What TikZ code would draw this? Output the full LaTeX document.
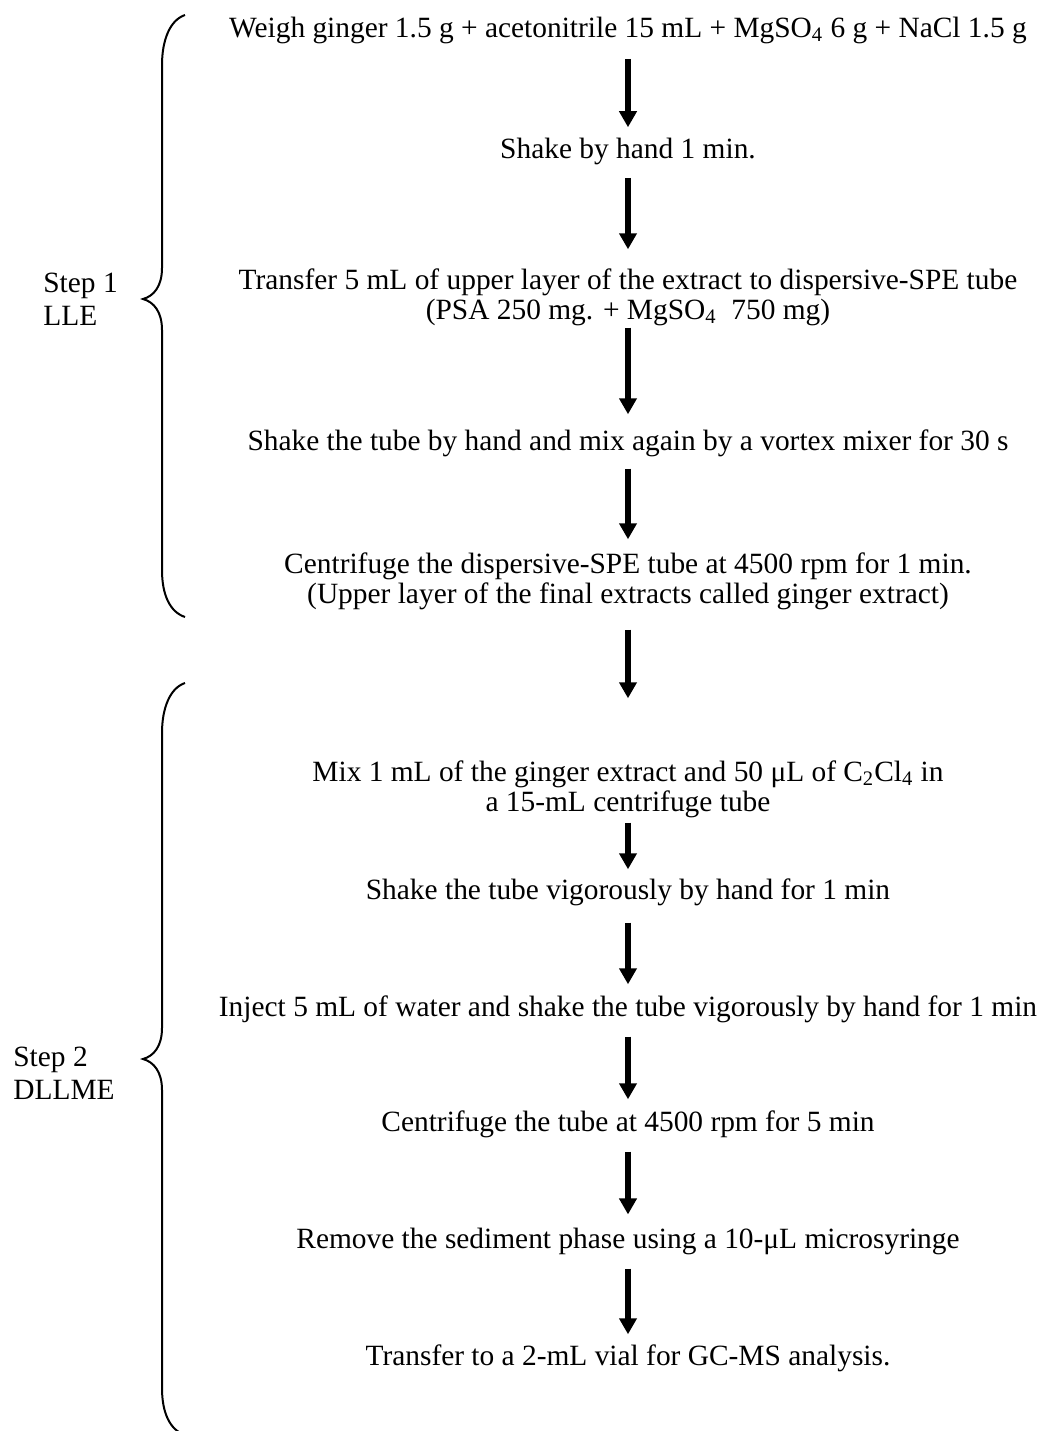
\documentclass[tikz,border=0pt]{standalone}
\usepackage{fontspec}
\setmainfont{Liberation Serif}
\usetikzlibrary{arrows.meta}
\begin{document}
\begin{tikzpicture}[x=0.5pt,y=-0.5pt,
  stepnode/.style={inner sep=0pt, align=center, font=\fontsize{14.7}{15}\selectfont},
  sidelabel/.style={inner sep=0pt, align=left, anchor=north west, font=\fontsize{14.7}{16.5}\selectfont},
  arr/.style={line width=3pt, -{Triangle[width=8.5pt,length=8pt]}},
  brace/.style={line width=1pt}]
\useasboundingbox (0,0) rectangle (1050,1431);
\node[stepnode] (n1) at (628,30) {Weigh ginger 1.5 g + acetonitrile 15 mL + MgSO\textsubscript{4} 6 g + NaCl 1.5 g};
\node[stepnode] (n2) at (628,151) {Shake by hand 1 min.};
\node[stepnode] (n3) at (628,297) {Transfer 5 mL of upper layer of the extract to dispersive-SPE tube\\(PSA 250 mg. + MgSO\textsubscript{4}\ \ 750 mg)};
\node[stepnode] (n4) at (628,443) {Shake the tube by hand and mix again by a vortex mixer for 30 s};
\node[stepnode] (n5) at (628,581) {Centrifuge the dispersive-SPE tube at 4500 rpm for 1 min.\\(Upper layer of the final extracts called ginger extract)};
\node[stepnode] (n6) at (628,789) {Mix 1 mL of the ginger extract and 50 μL of C\textsubscript{2}Cl\textsubscript{4} in\\a 15-mL centrifuge tube};
\node[stepnode] (n7) at (628,892) {Shake the tube vigorously by hand for 1 min};
\node[stepnode] (n8) at (628,1009) {Inject 5 mL of water and shake the tube vigorously by hand for 1 min};
\node[stepnode] (n9) at (628,1124) {Centrifuge the tube at 4500 rpm for 5 min};
\node[stepnode] (n10) at (628,1241) {Remove the sediment phase using a 10-μL microsyringe};
\node[stepnode] (n11) at (628,1358) {Transfer to a 2-mL vial for GC-MS analysis.};
\foreach \a/\b/\s/\e in {n1/n2/7.5/5, n2/n3/6.5/9.4, n3/n4/0.9/7.4, n4/n5/5.9/6.4, n5/n6/9.9/30.9,
    n6/n7/2.4/4.4, n7/n8/8.4/5.4, n8/n9/6.9/5.4, n9/n10/6.9/6.4, n10/n11/6.9/4.9}
  \draw[arr, shorten <=\s pt, shorten >=\e pt] (\a.south) -- (\b.north);
\node[sidelabel] (s1) at (43,273) {Step 1\\LLE};
\node[sidelabel] (s2) at (13,1047) {Step 2\\DLLME};
\draw[brace] (185,15) .. controls (170,20) and (162,40) .. (162,65) -- (162,268)
  .. controls (162,286) and (154,296) .. (143,299)
  .. controls (154,302) and (162,312) .. (162,330) -- (162,570)
  .. controls (162,595) and (170,612) .. (185,617);
\draw[brace] (185,683) .. controls (170,688) and (162,708) .. (162,733) -- (162,1028)
  .. controls (162,1046) and (154,1056) .. (143,1059)
  .. controls (154,1062) and (162,1072) .. (162,1090) -- (162,1388)
  .. controls (162,1413) and (170,1430) .. (185,1435);
\end{tikzpicture}
\end{document}
